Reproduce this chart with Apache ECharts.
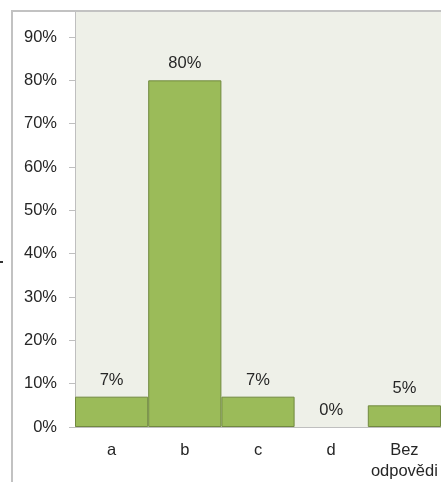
<!DOCTYPE html>
<html>
<head>
<meta charset="utf-8">
<script src="https://cdn.jsdelivr.net/npm/echarts@6/dist/echarts.min.js"></script>
<style>
  html, body { margin: 0; padding: 0; background: #ffffff; }
  #chart { width: 441px; height: 482px; }
</style>
</head>
<body>
<div id="chart"></div>
<script>
// Answer categories and share of responses (percent)
const categories = ['a', 'b', 'c', 'd', 'Bez\nodpovědi'];
const shares = [7, 80, 7, 0, 5];
const yTickStep = 10;

const FONT = "'Liberation Sans', Arial, sans-serif";
const SIZE = 16.5;
const TEXT = '#262626';
const LINE = '#BFBFBF';

const chart = echarts.init(document.getElementById('chart'), null, { renderer: 'canvas' });

// zero-height bars get no outline so nothing is drawn over the axis
const barData = shares.map(v => ({
  value: v,
  itemStyle: v === 0 ? { borderWidth: 0 } : {}
}));

chart.setOption({
  animation: false,
  backgroundColor: '#ffffff',
  textStyle: { fontFamily: FONT },
  grid: {
    left: 75, right: -1, top: 11, bottom: 52,
    show: true, backgroundColor: '#EEF0E8', borderWidth: 0
  },
  graphic: [
    {
      type: 'rect', z: 100, silent: true,
      shape: { x: 12, y: 11, width: 460, height: 500 },
      style: { fill: 'none', stroke: '#C2C2C2', lineWidth: 2 }
    },
    {
      type: 'rect', z: 100, silent: true,
      shape: { x: 0, y: 261, width: 3, height: 2 },
      style: { fill: '#333333' }
    }
  ],
  xAxis: {
    type: 'category',
    data: categories,
    axisLine: { show: true, lineStyle: { color: LINE, width: 1 } },
    axisTick: { show: false },
    axisLabel: {
      color: TEXT, fontSize: SIZE, fontFamily: FONT,
      margin: 13, lineHeight: 21, interval: 0
    },
    splitLine: { show: false }
  },
  yAxis: {
    type: 'value',
    min: 0, max: 96, interval: yTickStep,
    axisLine: { show: true, lineStyle: { color: LINE, width: 1 } },
    axisTick: { show: true, inside: false, length: 6, lineStyle: { color: LINE } },
    axisLabel: {
      color: TEXT, fontSize: SIZE, fontFamily: FONT, margin: 18,
      showMaxLabel: false,
      formatter: '{value}%'
    },
    splitLine: { show: false }
  },
  series: [{
    type: 'bar',
    data: barData,
    barCategoryGap: 0,
    barGap: 0,
    itemStyle: { color: '#9BBB59', borderColor: '#71893F', borderWidth: 1 },
    label: {
      show: true, position: 'top', distance: 8,
      color: TEXT, fontSize: SIZE, fontFamily: FONT,
      formatter: p => p.value + '%'
    }
  }]
});
</script>
</body>
</html>
